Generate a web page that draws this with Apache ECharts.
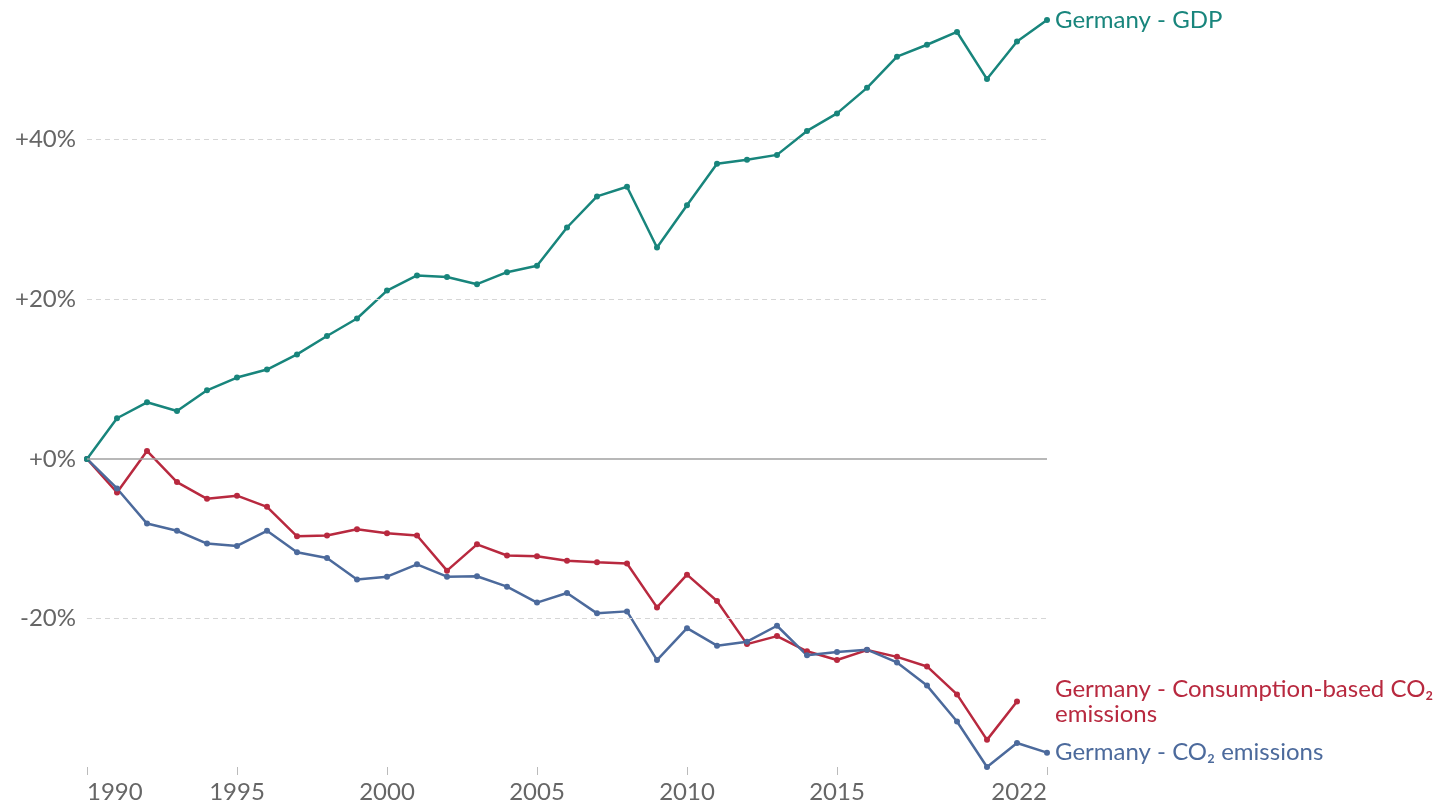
<!DOCTYPE html>
<html>
<head>
<meta charset="utf-8">
<script src="https://cdn.jsdelivr.net/npm/echarts@6/dist/echarts.min.js"></script>
<style>
html,body{margin:0;padding:0;background:#fff;}
#chart{width:1448px;height:805px;}
</style>
</head>
<body>
<div id="chart"></div>
<script>
const years = [1990,1991,1992,1993,1994,1995,1996,1997,1998,1999,2000,2001,2002,2003,2004,2005,2006,2007,2008,2009,2010,2011,2012,2013,2014,2015,2016,2017,2018,2019,2020,2021,2022];
const gdp = [0,5.1,7.1,6.0,8.6,10.2,11.2,13.1,15.4,17.6,21.1,23.0,22.8,21.9,23.4,24.2,29.0,32.9,34.1,26.5,31.8,37.0,37.5,38.1,41.1,43.3,46.5,50.4,51.9,53.5,47.6,52.3,55.0];
const consCO2 = [0,-4.2,1.0,-2.9,-5.0,-4.6,-6.0,-9.7,-9.6,-8.8,-9.3,-9.6,-14.0,-10.7,-12.1,-12.2,-12.75,-12.95,-13.1,-18.6,-14.5,-17.8,-23.2,-22.2,-24.1,-25.2,-23.95,-24.8,-26.0,-29.5,-35.2,-30.4,null];
const co2 = [0,-3.7,-8.1,-9.0,-10.6,-10.9,-9.0,-11.7,-12.4,-15.1,-14.75,-13.2,-14.75,-14.7,-16.0,-18.0,-16.8,-19.35,-19.1,-25.2,-21.2,-23.4,-22.9,-20.9,-24.6,-24.2,-23.9,-25.5,-28.4,-32.9,-38.6,-35.6,-36.8];
const yTicks = [-20,0,20,40];
const xTicks = [1990,1995,2000,2005,2010,2015,2022];
const names = ['Germany - GDP','Germany - Consumption-based CO₂\nemissions','Germany - CO₂ emissions'];
const colors = ['#18857c','#b8293f','#4c6a9c'];

const pair = arr => years.map((y,i)=>[y,arr[i]]);
const FONT = 'Lato, "Noto Sans", sans-serif';

const chart = echarts.init(document.getElementById('chart'), null, {renderer:'canvas'});
function lineSeries(name, data, color, dist){
  return {
    type:'line', name:name, data:pair(data),
    symbol:'circle', symbolSize:6, showSymbol:true,
    lineStyle:{color:color,width:2.5}, itemStyle:{color:color},
    connectNulls:false, animation:false, z:3,
    endLabel:{show:true, formatter:name, color:color, fontSize:24, fontFamily:FONT, distance:dist, lineHeight:25, align:'left'}
  };
}
const option = {
  animation:false,
  backgroundColor:'#fff',
  grid:{left:87,right:401,top:20,bottom:38,containLabel:false},
  xAxis:{
    type:'value', min:1990, max:2022,
    axisLine:{show:false, onZero:false},
    axisTick:{show:true, length:8, lineStyle:{color:'#bbb'}, customValues:xTicks},
    axisLabel:{fontSize:24, fontFamily:FONT, color:'#666', margin:13, customValues:xTicks,
      alignMinLabel:'left', alignMaxLabel:'right', formatter:v=>String(v)},
    splitLine:{show:false}
  },
  yAxis:{
    type:'value', min:-38.6, max:55,
    axisLine:{show:false}, axisTick:{show:false},
    axisLabel:{fontSize:24, fontFamily:FONT, color:'#666', margin:11, customValues:yTicks,
      formatter:v=> v>0 ? '+'+v+'%' : (v===0 ? '+0%' : v+'%')},
    splitLine:{show:false}
  },
  series:[
    {type:'line', name:'grid', data:[], silent:true, z:1,
      markLine:{silent:true, symbol:'none', label:{show:false}, animation:false,
        data: yTicks.map(v=>({yAxis:v, lineStyle: v===0 ? {color:'#a0a0a0',width:1.5,type:'solid'} : {color:'#d6d6d6',width:1,type:[5,4]}}))
      }
    },
    lineSeries(names[1], consCO2, colors[1], 38),
    lineSeries(names[2], co2, colors[2], 8),
    lineSeries(names[0], gdp, colors[0], 8)
  ]
};
chart.setOption(option);
</script>
</body>
</html>
